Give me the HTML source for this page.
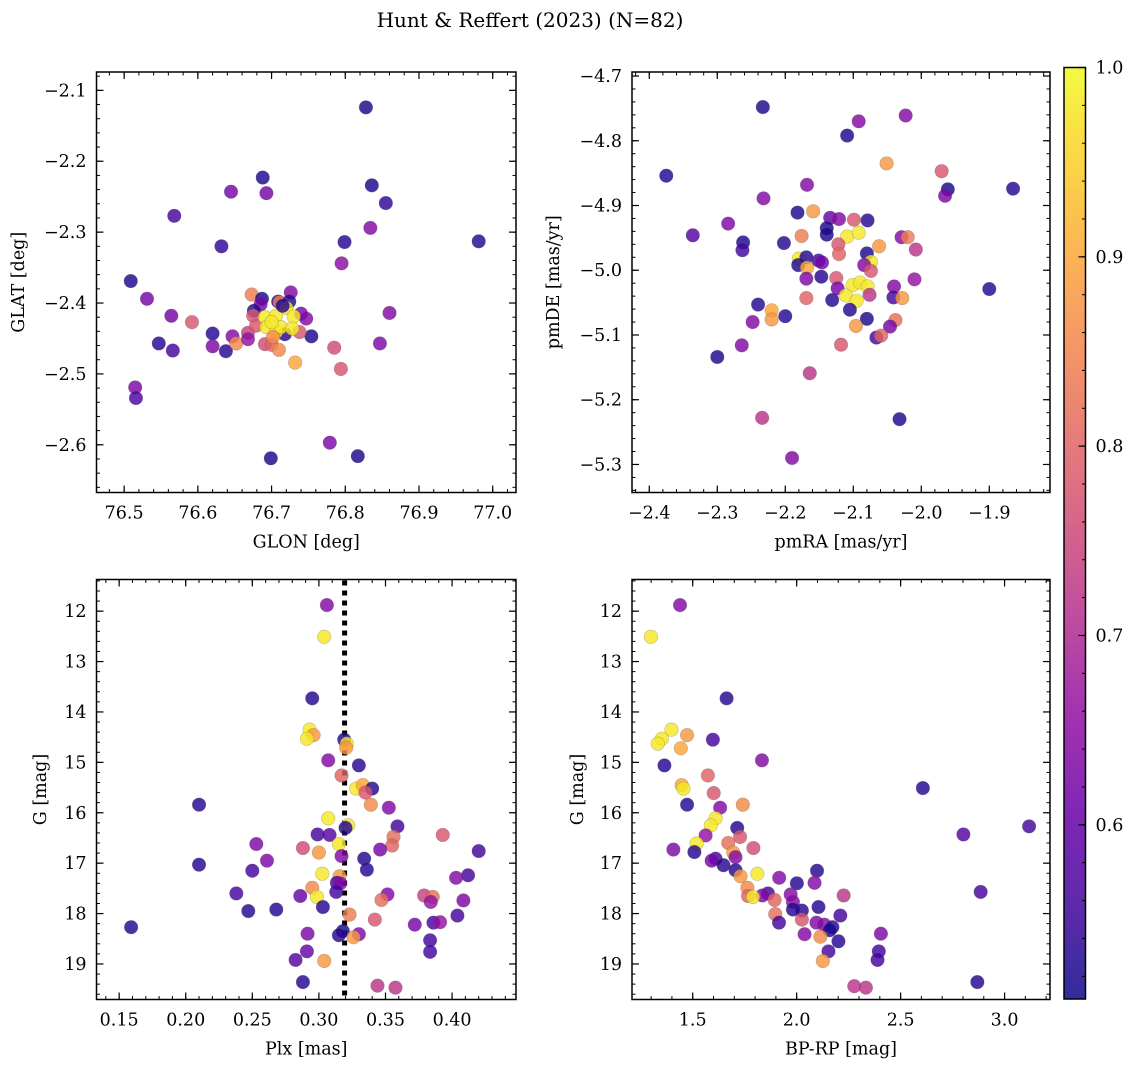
<!DOCTYPE html>
<html><head><meta charset="utf-8">
<style>
html,body{margin:0;padding:0;background:#fff;}
svg{display:block;font-family:"DejaVu Serif","Liberation Serif",serif;}
</style></head>
<body>
<svg id="fig" width="1136" height="1067" viewBox="0 0 1136 1067" xmlns="http://www.w3.org/2000/svg">
<text x="530" y="27" font-size="20" text-anchor="middle" fill="#000">Hunt &amp; Reffert (2023) (N=82)</text>
</svg>
<script>
// ---- Panel 1: GLON vs GLAT ----
const glon = [76.828,76.688,76.645,76.693,76.836,76.855,76.568,76.834,76.981,76.799,76.632,76.795,76.509,76.531,76.564,76.592,76.860,76.620,76.547,76.566,76.620,76.638,76.647,76.652,76.668,76.668,76.754,76.785,76.847,76.732,76.794,76.515,76.516,76.779,76.817,76.699,76.673,76.687,76.685,76.709,76.711,76.726,76.724,76.676,76.675,76.740,76.747,76.738,76.691,76.700,76.710,76.718,76.679,76.691,76.706,76.720,76.730,76.693,76.706,76.713,76.728,76.700,76.715,76.702];
const glat = [-2.124,-2.223,-2.243,-2.245,-2.234,-2.259,-2.277,-2.294,-2.313,-2.314,-2.320,-2.344,-2.369,-2.394,-2.418,-2.427,-2.414,-2.443,-2.457,-2.467,-2.461,-2.468,-2.447,-2.457,-2.442,-2.451,-2.447,-2.463,-2.457,-2.484,-2.493,-2.519,-2.534,-2.597,-2.616,-2.619,-2.388,-2.394,-2.402,-2.398,-2.399,-2.385,-2.398,-2.411,-2.418,-2.415,-2.422,-2.441,-2.458,-2.459,-2.466,-2.444,-2.432,-2.420,-2.418,-2.407,-2.419,-2.434,-2.441,-2.434,-2.436,-2.427,-2.404,-2.448];
const prob1 = [.52,.52,.62,.62,.52,.54,.56,.64,.53,.53,.54,.65,.52,.62,.62,.78,.64,.53,.53,.56,.63,.53,.64,.86,.74,.66,.52,.76,.63,.9,.78,.63,.57,.63,.52,.52,.84,.52,.62,.53,.84,.64,.53,.53,.78,.62,.64,.78,.76,.8,.86,.53,.78,.98,.98,.98,.98,.98,.98,.98,.98,.98,.53,.86];
// ---- Panel 2: pmRA vs pmDE ----
const pmra = [-2.233,-2.092,-2.023,-2.109,-2.051,-1.970,-2.375,-1.961,-1.965,-1.865,-2.168,-2.232,-2.284,-2.336,-2.262,-2.263,-2.202,-2.182,-2.159,-2.134,-2.121,-2.099,-2.079,-2.139,-2.139,-2.176,-2.109,-2.092,-2.122,-2.121,-2.062,-2.029,-2.020,-2.008,-2.180,-2.181,-2.169,-2.168,-2.151,-2.146,-2.080,-2.074,-2.084,-2.074,-2.147,-2.169,-2.125,-2.123,-2.101,-2.090,-2.079,-2.111,-2.095,-2.076,-2.131,-2.169,-2.040,-2.041,-2.028,-2.010,-1.900,-2.240,-2.220,-2.220,-2.200,-2.248,-2.105,-2.080,-2.096,-2.038,-2.046,-2.066,-2.059,-2.264,-2.300,-2.118,-2.164,-2.234,-2.032,-2.190];
const pmde = [-4.748,-4.770,-4.761,-4.792,-4.835,-4.847,-4.854,-4.875,-4.885,-4.874,-4.868,-4.889,-4.928,-4.946,-4.957,-4.969,-4.958,-4.911,-4.909,-4.919,-4.921,-4.922,-4.923,-4.935,-4.945,-4.947,-4.948,-4.942,-4.960,-4.975,-4.963,-4.949,-4.949,-4.968,-4.982,-4.992,-4.980,-4.996,-4.985,-4.988,-4.974,-4.987,-4.992,-5.001,-5.010,-5.013,-5.012,-5.028,-5.023,-5.019,-5.025,-5.039,-5.047,-5.038,-5.046,-5.043,-5.025,-5.042,-5.043,-5.014,-5.029,-5.053,-5.062,-5.076,-5.071,-5.080,-5.061,-5.075,-5.086,-5.077,-5.087,-5.104,-5.101,-5.116,-5.134,-5.115,-5.159,-5.228,-5.230,-5.290];
const prob2 = [.52,.64,.64,.52,.88,.78,.53,.52,.63,.53,.64,.64,.63,.58,.52,.56,.53,.52,.88,.6,.64,.78,.53,.52,.52,.84,.98,.98,.78,.8,.88,.64,.84,.72,.98,.52,.53,.9,.56,.62,.52,.98,.64,.78,.53,.63,.78,.62,.98,.98,.98,.98,.98,.72,.53,.8,.64,.56,.88,.66,.53,.53,.9,.88,.53,.64,.53,.52,.88,.82,.62,.56,.8,.64,.52,.78,.72,.72,.52,.64];
// ---- Panel 3: Plx vs G ----
const plx = [0.306,0.304,0.295,0.293,0.296,0.291,0.319,0.321,0.3205,0.307,0.330,0.317,0.328,0.333,0.340,0.335,0.339,0.3525,0.210,0.307,0.322,0.320,0.359,0.393,0.299,0.308,0.356,0.355,0.315,0.288,0.300,0.317,0.346,0.253,0.420,0.334,0.336,0.261,0.210,0.250,0.3025,0.3155,0.3135,0.316,0.412,0.403,0.295,0.313,0.286,0.2985,0.238,0.3515,0.347,0.379,0.3855,0.384,0.4085,0.303,0.247,0.268,0.323,0.404,0.342,0.372,0.386,0.391,0.159,0.2915,0.318,0.315,0.330,0.326,0.3835,0.3835,0.291,0.2825,0.304,0.288,0.344,0.3575];
const gmag3 = [11.88,12.51,13.73,14.35,14.46,14.53,14.55,14.63,14.71,14.96,15.06,15.26,15.52,15.45,15.52,15.60,15.84,15.90,15.84,16.11,16.25,16.30,16.27,16.44,16.43,16.44,16.48,16.65,16.62,16.70,16.79,16.86,16.73,16.62,16.76,16.91,17.13,16.95,17.03,17.15,17.21,17.26,17.39,17.40,17.24,17.29,17.49,17.57,17.65,17.67,17.60,17.62,17.73,17.64,17.67,17.77,17.74,17.87,17.95,17.92,18.02,18.04,18.12,18.22,18.18,18.17,18.27,18.40,18.35,18.43,18.41,18.47,18.53,18.76,18.75,18.92,18.94,19.36,19.43,19.47];
const prob3 = [.64,.98,.53,.98,.88,.98,.53,.98,.88,.64,.53,.8,.98,.9,.53,.78,.86,.64,.53,.98,.98,.53,.56,.78,.56,.58,.82,.8,.98,.76,.88,.64,.62,.63,.56,.53,.53,.63,.53,.56,.98,.88,.55,.64,.56,.64,.86,.56,.6,.98,.56,.64,.82,.74,.82,.66,.63,.53,.53,.53,.84,.56,.78,.62,.56,.66,.53,.63,.52,.53,.63,.88,.56,.56,.6,.58,.88,.53,.72,.72];
const plxRef = 0.3193;
// ---- Panel 4: BP-RP vs G ----
const bprp = [1.439,1.299,1.663,1.398,1.473,1.352,1.332,1.443,1.597,1.364,1.833,1.573,1.447,1.455,1.601,2.607,1.473,1.741,1.632,1.61,1.587,1.714,1.562,1.728,1.519,3.118,2.802,1.407,1.792,1.671,1.508,1.695,1.61,1.591,1.706,1.648,1.706,1.73,1.811,1.916,2.098,2.086,2.001,1.763,1.862,1.835,1.766,1.79,1.971,1.894,1.982,2.226,2.885,2.105,1.982,2.025,1.897,2.21,2.025,2.095,1.915,2.133,2.172,2.159,2.038,2.114,2.405,2.201,2.395,2.153,2.389,2.126,2.277,2.333,2.869];
const gmag4 = [11.88,12.51,13.73,14.35,14.46,14.53,14.63,14.72,14.55,15.06,14.96,15.26,15.45,15.52,15.61,15.51,15.84,15.84,15.90,16.11,16.25,16.30,16.45,16.48,16.61,16.27,16.43,16.73,16.70,16.60,16.78,16.79,16.91,16.95,16.88,17.04,17.14,17.26,17.21,17.29,17.15,17.39,17.40,17.49,17.60,17.64,17.65,17.67,17.62,17.73,17.77,17.64,17.57,17.87,17.92,17.94,18.01,18.04,18.12,18.18,18.18,18.22,18.27,18.33,18.41,18.46,18.40,18.55,18.75,18.75,18.92,18.94,19.44,19.47,19.36];
const prob4 = [.64,.98,.53,.98,.88,.98,.98,.9,.56,.53,.64,.8,.9,.98,.78,.53,.53,.86,.64,.98,.98,.53,.66,.78,.98,.56,.58,.63,.76,.82,.53,.88,.56,.62,.64,.53,.53,.88,.98,.64,.53,.64,.53,.86,.56,.63,.8,.98,.64,.8,.64,.72,.56,.53,.53,.53,.82,.56,.78,.64,.56,.64,.53,.52,.64,.86,.63,.53,.56,.56,.56,.88,.72,.72,.53];
// ---- Colorbar ----
const cbTicks = [0.6,0.7,0.8,0.9,1.0];
const cbMin = 0.508, cbMax = 1.0;

const NS = "http://www.w3.org/2000/svg";
const svg = document.getElementById('fig');
function mk(tag, attrs, parent){const e=document.createElementNS(NS,tag);for(const k in attrs)e.setAttribute(k,attrs[k]);(parent||svg).appendChild(e);return e;}

const plasmaStops=[[0,13,8,135],[.1,65,4,157],[.2,106,0,168],[.3,143,13,164],[.4,177,42,144],[.5,204,71,120],[.6,225,100,98],[.7,242,132,75],[.8,252,166,54],[.9,252,206,37],[1,240,249,33]];
function plasma(t){t=Math.max(0,Math.min(1,t));for(let i=1;i<plasmaStops.length;i++){const a=plasmaStops[i-1],b=plasmaStops[i];if(t<=b[0]){const f=(t-a[0])/(b[0]-a[0]);return `rgb(${Math.round(a[1]+f*(b[1]-a[1]))},${Math.round(a[2]+f*(b[2]-a[2]))},${Math.round(a[3]+f*(b[3]-a[3]))})`;}}return 'rgb(240,249,33)';}
function pcol(p){return plasma((p-cbMin)/(cbMax-cbMin));}

function fmt(v,d){const s=Math.abs(v).toFixed(d);return (v<-1e-9?'\u2212':'')+s;}
const FS=17.5;

function panel(cfg){
  const {name,x0,y0,w,h,xmin,xmax,ymin,ymax,yInvert,xMaj,xMin,yMaj,yMin,xd,yd,xlabel,ylabel,ylabelX,xs,ys,ps,refX}=cfg;
  const g=mk('g',{});
  
  
  const sx=v=>x0+(v-xmin)/(xmax-xmin)*w;
  const sy=v=>yInvert? y0+(v-ymin)/(ymax-ymin)*h : y0+h-(v-ymin)/(ymax-ymin)*h;
  const tickRange=(mn,mx,step)=>{const out=[];const s=Math.ceil(mn/step-1e-6);for(let k=s;k*step<=mx+1e-9;k++)out.push(+(k*step).toFixed(6));return out;};
  tickRange(xmin,xmax,xMin).forEach(v=>{const X=sx(v);mk('line',{x1:X,x2:X,y1:y0+h,y2:y0+h-3.5,stroke:'#000','stroke-width':1},g);mk('line',{x1:X,x2:X,y1:y0,y2:y0+3.5,stroke:'#000','stroke-width':1},g);});
  tickRange(ymin,ymax,yMin).forEach(v=>{const Y=sy(v);mk('line',{x1:x0,x2:x0+3.5,y1:Y,y2:Y,stroke:'#000','stroke-width':1},g);mk('line',{x1:x0+w,x2:x0+w-3.5,y1:Y,y2:Y,stroke:'#000','stroke-width':1},g);});
  tickRange(xmin,xmax,xMaj).forEach(v=>{const X=sx(v);mk('line',{x1:X,x2:X,y1:y0+h,y2:y0+h-7,stroke:'#000','stroke-width':1.2},g);mk('line',{x1:X,x2:X,y1:y0,y2:y0+7,stroke:'#000','stroke-width':1.2},g);
    const t=mk('text',{x:X,y:y0+h+26,'font-size':FS,'text-anchor':'middle'},g);t.textContent=fmt(v,xd);
    
    });
  tickRange(ymin,ymax,yMaj).forEach(v=>{const Y=sy(v);mk('line',{x1:x0,x2:x0+7,y1:Y,y2:Y,stroke:'#000','stroke-width':1.2},g);mk('line',{x1:x0+w,x2:x0+w-7,y1:Y,y2:Y,stroke:'#000','stroke-width':1.2},g);
    const t=mk('text',{x:x0-10,y:Y+6,'font-size':FS,'text-anchor':'end'},g);t.textContent=fmt(v,yd);
    
    });
  if(refX!==undefined){const X=sx(refX);const l=mk('line',{x1:X,x2:X,y1:y0+1,y2:y0+h,stroke:'#000','stroke-width':5,'stroke-dasharray':'5 5'},g);
    
    }
  for(let i=0;i<xs.length;i++){
    const c=mk('circle',{cx:sx(xs[i]),cy:sy(ys[i]),r:6.8,fill:pcol(ps[i]),'fill-opacity':0.82,stroke:'#555','stroke-opacity':0.35,'stroke-width':0.6},g);
    
    
  }
  const f=mk('rect',{x:x0,y:y0,width:w,height:h,fill:'none',stroke:'#000','stroke-width':1.5},g);
  
  
  const xl=mk('text',{x:x0+w/2,y:y0+h+55,'font-size':FS,'text-anchor':'middle'},g);xl.textContent=xlabel;
  
  
  const yl=mk('text',{x:0,y:0,'font-size':FS,'text-anchor':'middle',transform:`translate(${ylabelX},${y0+h/2}) rotate(-90)`},g);yl.textContent=ylabel;
  
  
}

panel({name:'glon-glat-panel',x0:96.5,y0:72,w:419.5,h:420.5,xmin:76.4625,xmax:77.0316,ymin:-2.6673,ymax:-2.0741,yInvert:false,xMaj:0.1,xMin:0.02,yMaj:0.1,yMin:0.02,xd:1,yd:1,xlabel:'GLON [deg]',ylabel:'GLAT [deg]',ylabelX:24,xs:glon,ys:glat,ps:prob1});
panel({name:'pm-panel',x0:632,y0:72,w:418,h:420.5,xmin:-2.4254,xmax:-1.8107,ymin:-5.3433,ymax:-4.6938,yInvert:false,xMaj:0.1,xMin:0.02,yMaj:0.1,yMin:0.02,xd:1,yd:1,xlabel:'pmRA [mas/yr]',ylabel:'pmDE [mas/yr]',ylabelX:559,xs:pmra,ys:pmde,ps:prob2});
panel({name:'plx-g-panel',x0:96.5,y0:579.5,w:419.5,h:420,xmin:0.133,xmax:0.448,ymin:11.372,ymax:19.705,yInvert:true,xMaj:0.05,xMin:0.01,yMaj:1,yMin:0.2,xd:2,yd:0,xlabel:'Plx [mas]',ylabel:'G [mag]',ylabelX:46,xs:plx,ys:gmag3,ps:prob3,refX:plxRef});
panel({name:'cmd-panel',x0:632,y0:579.5,w:418,h:420,xmin:1.208,xmax:3.2185,ymin:11.372,ymax:19.705,yInvert:true,xMaj:0.5,xMin:0.1,yMaj:1,yMin:0.2,xd:1,yd:0,xlabel:'BP-RP [mag]',ylabel:'G [mag]',ylabelX:583,xs:bprp,ys:gmag4,ps:prob4});

(function(){
  const cx=1064,cy=67.5,cw=21.5,ch=931.5;
  const defs=mk('defs',{});
  const lg=mk('linearGradient',{id:'cbg',x1:0,y1:1,x2:0,y2:0},defs);
  for(let k=0;k<=20;k++){const t=k/20;mk('stop',{offset:t,'stop-color':plasma(t),'stop-opacity':0.85},lg);}
  const g=mk('g',{});
  
  
  const r=mk('rect',{x:cx,y:cy,width:cw,height:ch,fill:'url(#cbg)'},g);
  
  
  const sy=v=>cy+ch-(v-cbMin)/(cbMax-cbMin)*ch;
  for(let v=0.52;v<=1.0001;v+=0.02){const Y=sy(v);mk('line',{x1:cx+cw,x2:cx+cw-3.5,y1:Y,y2:Y,stroke:'#000','stroke-width':1},g);}
  cbTicks.forEach(v=>{const Y=sy(v);mk('line',{x1:cx+cw,x2:cx+cw-7,y1:Y,y2:Y,stroke:'#000','stroke-width':1.2},g);
    const t=mk('text',{x:cx+cw+10,y:Y+6,'font-size':FS},g);t.textContent=v.toFixed(1);
    
    });
  mk('rect',{x:cx,y:cy,width:cw,height:ch,fill:'none',stroke:'#000','stroke-width':1.5},g);
})();
</script>
</body></html>
